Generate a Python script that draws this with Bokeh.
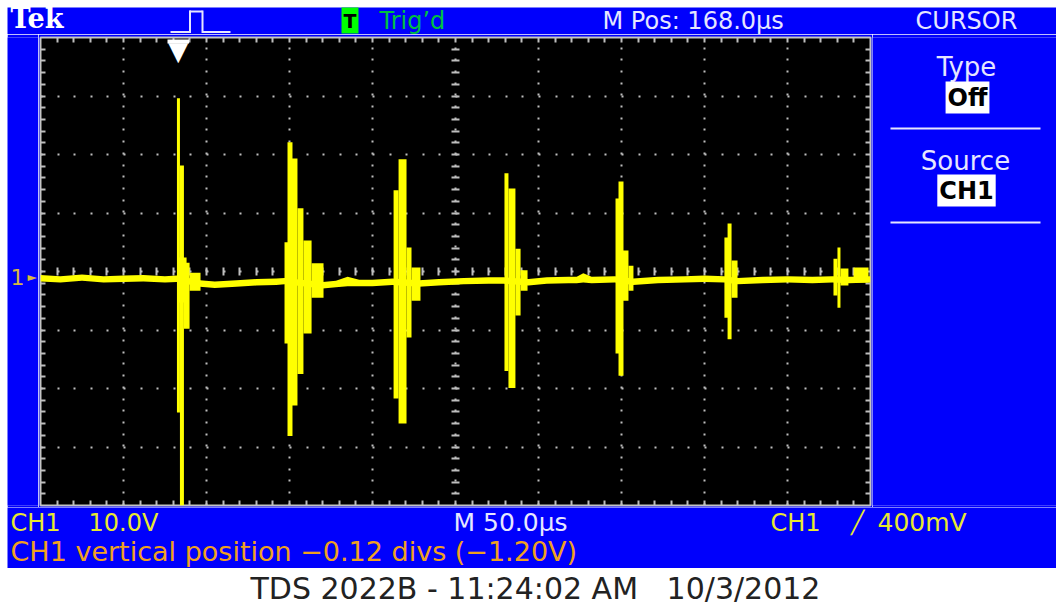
from bokeh.plotting import figure
from bokeh.models import Range1d, SingleIntervalTicker, Label, BoxAnnotation, Grid, Spacer
from bokeh.layouts import column, row
from bokeh.embed import file_html
from bokeh.resources import INLINE

# ---------------- data (time in microseconds, voltage in volts) ----------------
time_per_div_us = 50.0      # M 50.0us
volts_per_div = 10.0        # CH1 10.0V
n_div_x = 10
n_div_y = 8
trigger_pos_us = 83.0       # trigger marker position on screen

# baseline (noise band between bursts)
base_t = [0, 12, 25, 38, 50, 62, 75, 82, 96, 105, 118, 130, 142, 147, 170, 178, 185, 192,
          200, 212, 228, 240, 255, 270, 279, 294, 305, 318, 323, 327, 332, 346, 357, 372,
          388, 400, 412, 420, 435, 450, 465, 477, 487, 500]
base_hi = [-0.6, -0.8, -0.5, -0.8, -0.7, -0.6, -0.8, -0.7,
           -1.5, -1.7, -1.5, -1.3, -1.2, -1.1,
           -1.8, -1.6, -0.9, -1.4, -1.4, -1.2,
           -1.5, -1.3, -1.1, -1.0, -1.0,
           -1.3, -1.0, -0.9, -0.9, -0.3, -0.9, -0.8,
           -1.2, -0.9, -0.8, -0.7, -0.8,
           -1.1, -0.9, -0.8, -0.9, -0.8,
           -0.9, -0.8]
base_lo = [-1.7, -1.9, -1.6, -1.9, -1.8, -1.7, -1.9, -1.8,
           -2.6, -2.8, -2.6, -2.4, -2.3, -2.2,
           -2.9, -2.7, -2.5, -2.5, -2.5, -2.3,
           -2.6, -2.4, -2.2, -2.1, -2.1,
           -2.4, -2.1, -2.0, -2.0, -1.9, -2.0, -1.9,
           -2.3, -2.0, -1.9, -1.8, -1.9,
           -2.2, -2.0, -1.9, -2.0, -1.9,
           -2.0, -1.9]

# burst envelopes (peak-detect columns): start / end time, max / min voltage
burst_start = [82.2, 84.0, 82.5, 86.4, 89.8,
               147.0, 148.8, 150.6, 154.8, 158.4, 163.3,
               212.7, 215.7, 220.5, 223.5,
               279.5, 281.9, 286.1, 289.2,
               346.4, 348.2, 350.6, 354.2,
               412.0, 413.9, 416.3,
               477.7, 480.1, 481.9, 489.8]
burst_end = [84.0, 86.4, 88.0, 89.8, 96.4,
             149.4, 151.8, 154.8, 158.4, 163.3, 170.5,
             215.7, 220.5, 223.5, 228.9,
             281.9, 286.1, 289.2, 293.4,
             348.8, 351.2, 354.2, 357.2,
             414.2, 416.3, 419.9,
             480.1, 481.9, 486.7, 498.8]
burst_max = [29.6, 18.1, 2.4, 1.5, -0.2,
             5.0, 22.1, 19.3, 10.8, 5.3, 1.4,
             13.9, 19.2, 4.1, 0.7,
             16.8, 14.2, 3.9, 0.2,
             12.5, 15.4, 3.6, 1.0,
             5.8, 8.2, 1.9,
             2.2, 4.1, 0.5, 0.7]
burst_min = [-24.1, -40.0, -5.3, -9.8, -3.3,
             -12.3, -28.1, -22.9, -17.5, -10.6, -4.5,
             -21.7, -26.0, -11.3, -5.0,
             -17.0, -19.9, -7.5, -3.3,
             -14.0, -17.8, -5.0, -3.3,
             -7.9, -11.6, -4.5,
             -4.1, -6.2, -2.4, -1.9]

# ---------------- colours / fonts ----------------
BLUE = "#0000FC"
TRACE = "#FFFF00"
GRAT = "#C4C4C4"
DOT = "#BEBEBE"
YEL_TXT = "#E8E830"
ORANGE = "#F0A020"
LIGHT = "#E6E6FF"
GREEN = "#00C040"
FONT = "DejaVu Sans"

x_max = time_per_div_us * n_div_x
y_half = volts_per_div * n_div_y / 2


def panel(w, h, fill=BLUE):
    f = figure(width=w, height=h, x_range=Range1d(0, 1), y_range=Range1d(0, 1),
               output_backend="svg", toolbar_location=None, min_border=0,
               x_axis_location=None, y_axis_location=None,
               outline_line_color=None, background_fill_color=fill, border_fill_color=fill)
    f.grid.visible = False
    return f


def lab(f, text, x, y, color, size, align="left", font=FONT, style="normal", **kw):
    f.add_layout(Label(x=x, y=y, x_units="screen", y_units="screen", text=text,
                       text_color=color, text_font_size=f"{size}px", text_align=align,
                       text_baseline="middle", text_font=font, text_font_style=style, **kw))


def bar(f, left, right, top, bottom, color):
    f.add_layout(BoxAnnotation(left=left, right=right, top=top, bottom=bottom,
                               left_units="screen", right_units="screen",
                               top_units="screen", bottom_units="screen",
                               fill_color=color, fill_alpha=1.0, line_color=None))


# ---------------- main graticule ----------------
p = figure(width=834, height=473,
           x_range=Range1d(0, x_max), y_range=Range1d(-y_half, y_half),
           output_backend="svg", toolbar_location=None,
           x_axis_location=None, y_axis_location=None,
           min_border_left=2, min_border_right=2, min_border_top=3, min_border_bottom=2,
           background_fill_color="black", border_fill_color=BLUE,
           outline_line_color=GRAT, outline_line_width=2)
p.center = [r for r in p.center if not isinstance(r, Grid)]

xt = SingleIntervalTicker(interval=time_per_div_us, num_minor_ticks=5)
yt = SingleIntervalTicker(interval=volts_per_div, num_minor_ticks=5)
# vertical division lines (dotted) + edge / centre tick marks on the minor lines
p.add_layout(Grid(dimension=0, ticker=xt,
                  grid_line_color=DOT, grid_line_width=2,
                  grid_line_dash="2 10 2 10 2 9 2 10 2 10 2 9 2 10 2 10 2 9 2 10",
                  minor_grid_line_color=DOT, minor_grid_line_width=2,
                  minor_grid_line_dash="5 225 8 225 5"))
# horizontal division lines
p.add_layout(Grid(dimension=1, ticker=yt,
                  grid_line_color=DOT, grid_line_width=2,
                  grid_line_dash="2 15 2 14 2 15 2 14 2 15",
                  minor_grid_line_color=DOT, minor_grid_line_width=2,
                  minor_grid_line_dash="5 406 8 406 5"))

# trace
p.varea(x=base_t, y1=base_lo, y2=base_hi, fill_color=TRACE)
p.quad(left=burst_start, right=burst_end, top=burst_max, bottom=burst_min,
       fill_color=TRACE, line_color=None)

# trigger position marker
p.add_layout(Label(x=trigger_pos_us, y=455, x_units="data", y_units="screen", text="\u25bc",
                   text_color="white", text_font_size="26px", text_align="center",
                   text_baseline="middle", text_font=FONT))
p.add_layout(BoxAnnotation(left=trigger_pos_us - 6.5, right=trigger_pos_us + 6.5,
                           top=466, bottom=462, top_units="screen", bottom_units="screen",
                           fill_color="white", fill_alpha=1.0, line_color=None))

# ---------------- header strip (includes the white top margin) ----------------
hdr = panel(1056, 34, fill="white")
bar(hdr, 7, 1056, 27, 0, BLUE)
lab(hdr, "Tek", 10, 16, "white", 27, font="DejaVu Serif", style="bold")
bar(hdr, 170, 189, 3.5, 1.5, LIGHT)      # pulse icon
bar(hdr, 188.5, 190.5, 24, 1.5, LIGHT)
bar(hdr, 189, 202, 24, 22, LIGHT)
bar(hdr, 201, 203, 24, 1.5, LIGHT)
bar(hdr, 202, 230, 3.5, 1.5, LIGHT)
lab(hdr, "T", 349.5, 14, "black", 19, align="center", style="bold",
    background_fill_color="#00FF00", padding=2)
lab(hdr, "Trig\u2019d", 379, 14, GREEN, 24)
lab(hdr, "M Pos: 168.0\u00b5s", 602, 14, LIGHT, 24)
lab(hdr, "CURSOR", 966, 14, LIGHT, 24, align="center")

# ---------------- left strip (channel marker) ----------------
lft = panel(31, 473)
lab(lft, "1", 3, 229, "#D8B840", 22)
lab(lft, "\u25ba", 20, 229, "#D8B840", 12)

# ---------------- right menu ----------------
rgt = panel(184, 473)
bar(rgt, 18, 168, 472, 470, LIGHT)
lab(rgt, "Type", 94, 439, LIGHT, 26, align="center")
lab(rgt, "Off", 95, 408, "black", 24, align="center", style="bold",
    background_fill_color="white", padding=2)
bar(rgt, 18, 168, 378, 376, LIGHT)
lab(rgt, "Source", 93, 345, LIGHT, 26, align="center")
lab(rgt, "CH1", 94, 315, "black", 24, align="center", style="bold",
    background_fill_color="white", padding=2)
bar(rgt, 18, 168, 284, 282, LIGHT)

# ---------------- footer strip ----------------
ftr = panel(1049, 61)
lab(ftr, "CH1", 3, 46, YEL_TXT, 24)
lab(ftr, "10.0V", 81, 46, YEL_TXT, 24)
lab(ftr, "M 50.0\u00b5s", 446, 46, LIGHT, 25)
lab(ftr, "CH1", 763, 46, YEL_TXT, 24)
lab(ftr, "\u2571", 850, 46, YEL_TXT, 22, align="center")
lab(ftr, "400mV", 870, 46, YEL_TXT, 25)
lab(ftr, "CH1 vertical position \u22120.12 divs (\u22121.20V)", 3, 17, ORANGE, 27)

# ---------------- caption ----------------
cap = panel(1056, 38, fill="white")
lab(cap, "TDS 2022B - 11:24:02 AM\u00a0\u00a0\u00a010/3/2012", 250, 18, "#222222", 30)

screen = column(row(lft, p, rgt, spacing=0), ftr, spacing=0)
page = column(hdr,
              row(Spacer(width=7, height=534), screen, spacing=0),
              cap, spacing=0)
open("out.html", "w").write(file_html(page, INLINE))
